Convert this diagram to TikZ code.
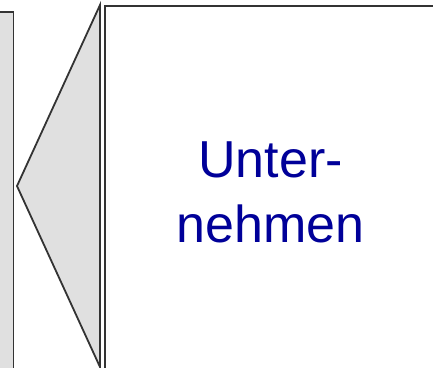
\documentclass[tikz,border=0pt]{standalone}
\usepackage{fontspec}
\setmainfont{Liberation Sans}
\definecolor{edge}{HTML}{333333}
\definecolor{panel}{HTML}{E0E0E0}
\definecolor{txtblue}{HTML}{000099}
\begin{document}
\begin{tikzpicture}[x=1pt,y=-1pt,
  outline/.style={draw=edge,line width=1.8pt,line join=miter},
  lbl/.style={text=txtblue,font=\fontsize{52}{65}\selectfont,align=center}]
\useasboundingbox (0,0) rectangle (433,367);
\clip (0,0) rectangle (433,367);
% left panel
\draw[outline,fill=panel] (-20,12) rectangle (13.5,380);
% triangle
\coordinate (ttop) at (100,5);
\coordinate (ttip) at (17,186);
\coordinate (tbot) at (100,367);
\draw[outline,fill=panel] (ttop) -- (ttip) -- (tbot) -- cycle;
% main box
\node[outline,fill=white,minimum width=335pt,minimum height=370pt,anchor=north west,inner sep=0pt] (box) at (104,5) {};
\node[lbl] (label) at (270.5,192) {Unter-\\nehmen};
\end{tikzpicture}
\end{document}
